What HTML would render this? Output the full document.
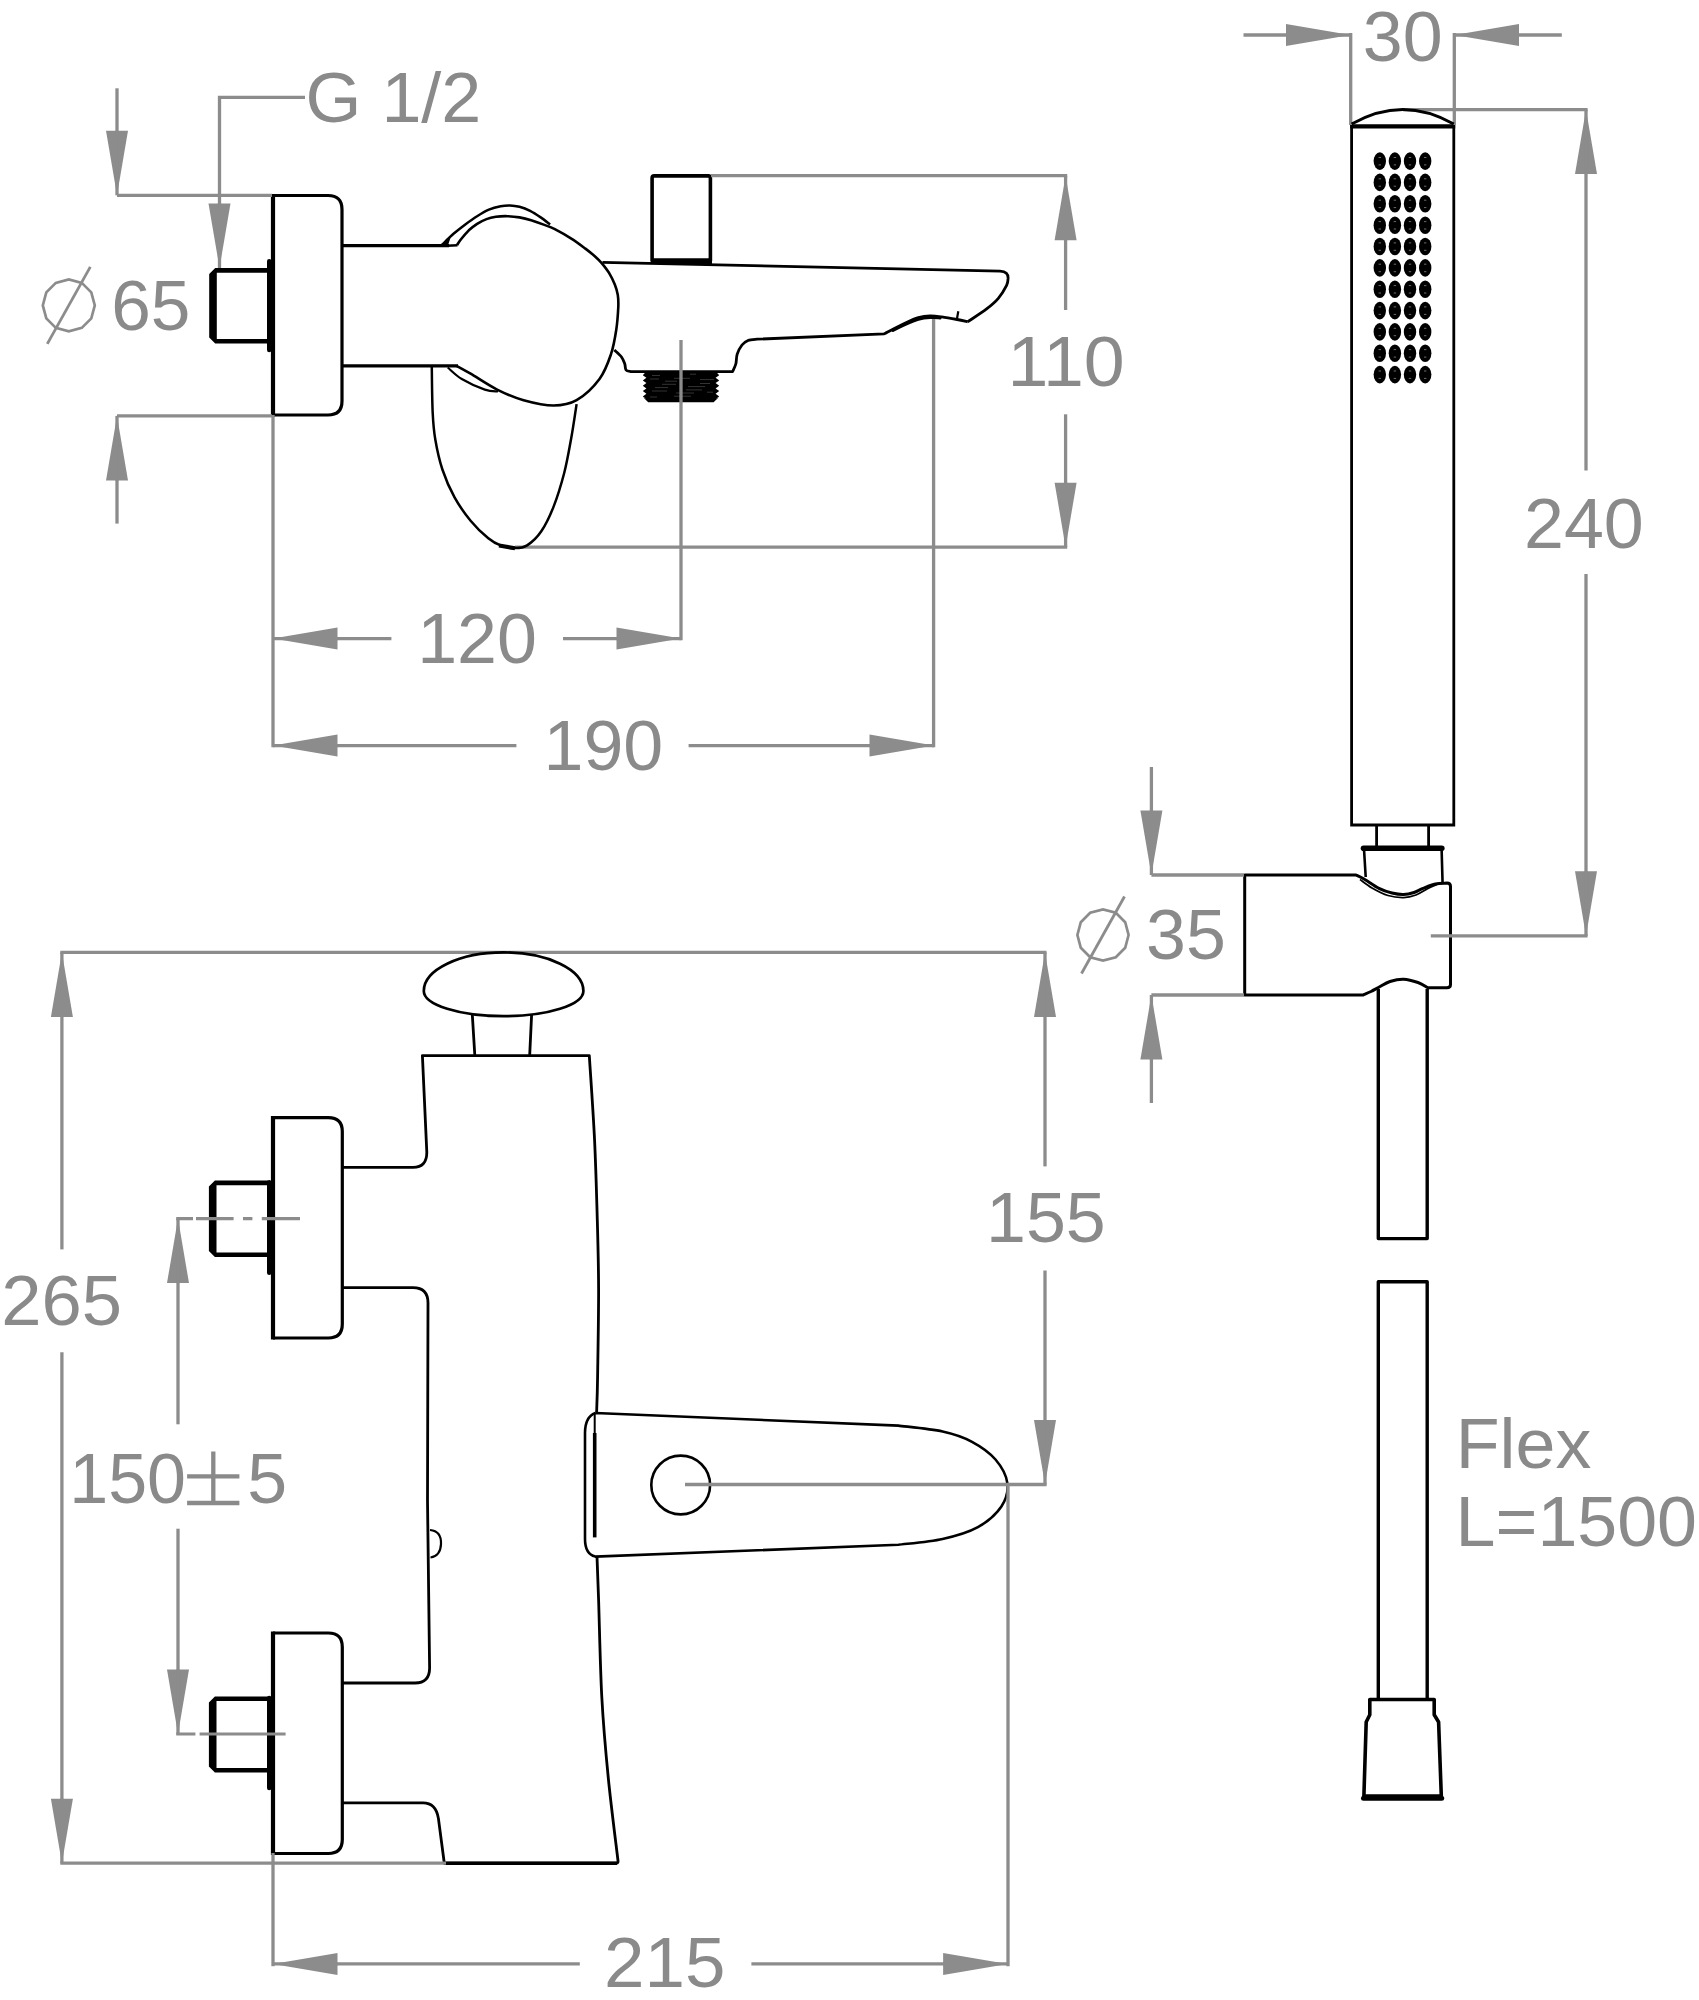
<!DOCTYPE html>
<html><head><meta charset="utf-8"><title>drawing</title>
<style>
html,body{margin:0;padding:0;background:#fff;}
svg{display:block;font-family:"Liberation Sans",sans-serif;}
</style></head><body>
<svg width="1699" height="2000" viewBox="0 0 1699 2000">
<rect width="1699" height="2000" fill="#fff"/>
<path d="M273,195.5 H328 Q342,195.5 342,209.5 V401 Q342,415 328,415 H273" fill="none" stroke="#000" stroke-width="3.2" />
<path d="M273,193.9 V416.6" fill="none" stroke="#000" stroke-width="4.2" />
<path d="M268,268 H215.2 L209.2,274 V337.6 L215.2,343.6 H268 Z M268,272.7 H216.8 V338.9 H268 Z" fill="#000" fill-rule="evenodd"/>
<path d="M269.2,261.3 V350.1" fill="none" stroke="#000" stroke-width="4.4" stroke-linecap="round"/>
<path d="M342,245.6 H449" fill="none" stroke="#000" stroke-width="3.3" />
<path d="M342,365.8 H458" fill="none" stroke="#000" stroke-width="3.2" />
<path d="M441.8,245 C443.8,243.1 449.6,237.2 453.5,233.8 C457.4,230.4 461.4,227.3 465.3,224.4 C469.2,221.5 473.2,218.6 477.1,216.2 C481,213.8 485,211.4 488.9,209.7 C492.8,208 497.1,206.9 500.6,206.2 C504.1,205.5 506.9,205.3 510,205.4 C513.1,205.5 516.1,205.9 519.5,206.8 C522.9,207.7 526.6,209.1 530.1,210.9 C533.6,212.7 537.4,215.2 540.7,217.4 C544,219.7 548.5,223.2 550.1,224.4" fill="none" stroke="#000" stroke-width="2.5" />
<path d="M441.5,246.8 L451,236.2 L447.5,246.8 Z" fill="#000"/>
<path d="M447,245.8 L457.5,245.2" fill="none" stroke="#000" stroke-width="2.6" />
<path d="M457.1,245 C457.7,244.1 458.7,242.1 460.6,239.7 C462.6,237.2 466.1,233 468.8,230.3 C471.6,227.7 474.2,225.7 477.1,223.8 C480.1,221.9 483.4,220.3 486.5,219.1 C489.6,217.9 492.4,217.3 495.9,216.8 C499.4,216.3 503.8,216.1 507.7,216.2 C511.6,216.3 515.6,216.7 519.5,217.4 C523.4,218.1 527.3,219.1 531.2,220.3 C535.1,221.5 539.1,222.9 543,224.4 C546.9,225.9 550.1,226.7 554.8,229.1 C559.5,231.5 566.2,235.3 571.3,238.6 C576.4,241.8 581.5,245.7 585.4,248.6 C589.3,251.5 592,253.8 594.8,256.2 C597.5,258.6 599.5,260.6 601.9,263.3 C604.2,266.1 606.8,269.2 608.9,272.7 C611,276.2 613.3,280.8 614.8,284.5 C616.3,288.2 617.2,291.2 617.8,295 C618.4,298.8 618.5,301.2 618.3,307 C618,312.8 617.5,321.6 616.3,329.5 C615.1,337.4 613.8,345.9 611,354.2 C608.2,362.4 605.2,371.3 599.5,379 C593.8,386.7 584.2,395.8 576.6,400.2 C569,404.6 562.4,405.5 553.6,405.5 C544.8,405.5 533,402.8 523.6,400.2 C514.2,397.6 505.9,394 497.1,389.6 C488.3,385.2 477.4,377.7 470.6,373.7 C463.8,369.7 458.9,367.1 456.5,365.8" fill="none" stroke="#000" stroke-width="2.6" />
<path d="M447.7,367.5 C450.1,369.4 455.6,375.3 461.8,379 C468,382.7 478.8,387.5 484.8,389.6 C490.8,391.7 495.8,391.2 498,391.5" fill="none" stroke="#000" stroke-width="2.2" />
<path d="M652.1,261 V178 Q652.1,175.9 654.2,175.9 H708.3 Q710.4,175.9 710.4,178 V261" fill="none" stroke="#000" stroke-width="3.6" />
<path d="M652.1,260 H710.4" fill="none" stroke="#000" stroke-width="3.6" />
<path d="M650.6,262.6 H712" fill="none" stroke="#000" stroke-width="3" />
<path d="M602.5,262.3 L1000,271.2 Q1008.8,271.6 1008,279  C1007.8,280.1 1008.2,282.1 1006.6,285.3 C1005,288.5 1001.6,294.4 998.3,298.3 C995,302.2 991.7,305 986.6,308.9 C981.5,312.8 970.9,319.6 967.7,321.8" fill="none" stroke="#000" stroke-width="2.8" stroke-linejoin="round"/>
<path d="M967.7,321.8  C965.9,321.4 961.4,320.3 957.1,319.5 C952.8,318.7 946.3,317.5 941.8,316.9 C937.3,316.3 933.9,315.8 930,315.9 C926.1,316 922.2,316.6 918.3,317.7 C914.4,318.8 910.2,320.7 906.5,322.4 C902.8,324.1 899.6,325.8 895.9,327.7 C892.2,329.6 886.2,332.8 884.2,333.8 L757,339.2  C755.5,339.4 750.5,339.5 748,340.5 C745.5,341.5 743.8,342.7 742,345 C740.2,347.3 738.2,351 737.2,354.2 C736.2,357.4 736.6,361.1 735.8,364 C735,366.9 733.1,370.3 732.6,371.6 H631  C630.2,371.3 627,371.3 626,370 C625,368.7 625.5,366.2 624.8,364 C624,361.8 623.2,359.3 621.5,357 C619.8,354.7 615.5,351.2 614.3,350" fill="none" stroke="#000" stroke-width="2.8" stroke-linejoin="round"/>
<path d="M893,330.3 C895.2,329.2 902.3,325.7 906.5,323.8 C910.7,321.9 914.4,320.3 918.3,319.2 C922.2,318.1 926.4,317.6 930,317.4 C933.6,317.2 938.3,317.7 940,317.8" fill="none" stroke="#000" stroke-width="3.2" stroke-linecap="round"/>
<path d="M958.3,311.2 L956.9,319.3" fill="none" stroke="#000" stroke-width="2.2" />
<polygon points="646.2,371.6 642.8,375.2 646.4,377.8 642.8,380.5 646.4,383.1 642.8,385.8 646.4,388.4 642.8,391.1 646.4,393.7 642.8,396.4 646.4,399 643.4,397.5 648.2,402.2 713.6,402.2 718.6,397.5 715.6,399 719.2,396.4 715.6,393.7 719.2,391.1 715.6,388.4 719.2,385.8 715.6,383.1 719.2,380.5 715.6,377.8 719.2,375.2 715.8,371.6" fill="#000"/>
<path d="M652,375.5 H660" stroke="#404040" stroke-width="0.8"/>
<path d="M690,374.2 H696" stroke="#404040" stroke-width="0.8"/>
<path d="M650,379 H659" stroke="#404040" stroke-width="0.8"/>
<path d="M674,378.3 H690" stroke="#404040" stroke-width="0.8"/>
<path d="M665,381.2 H677" stroke="#404040" stroke-width="0.8"/>
<path d="M700,379.6 H714" stroke="#404040" stroke-width="0.8"/>
<path d="M662,384.3 H676" stroke="#404040" stroke-width="0.8"/>
<path d="M700,383.5 H710" stroke="#404040" stroke-width="0.8"/>
<path d="M655,387.6 H668" stroke="#404040" stroke-width="0.8"/>
<path d="M688,386.6 H705" stroke="#404040" stroke-width="0.8"/>
<path d="M652,391 H667" stroke="#404040" stroke-width="0.8"/>
<path d="M686,389.9 H702" stroke="#404040" stroke-width="0.8"/>
<path d="M676,393 H694" stroke="#404040" stroke-width="0.8"/>
<path d="M707,392.2 H713" stroke="#404040" stroke-width="0.8"/>
<path d="M650,397 H657" stroke="#404040" stroke-width="0.8"/>
<path d="M674,396.2 H691" stroke="#404040" stroke-width="0.8"/>
<path d="M1351.6,124 V825 H1453.8 V124" fill="none" stroke="#000" stroke-width="2.8" />
<path d="M1350.2,126.3 H1455.2" fill="none" stroke="#000" stroke-width="4.2" />
<ellipse cx="1379.8" cy="161.1" rx="6.2" ry="8.8" fill="#000"/>
<path d="M1378.6,157.5 h2.4 M1378.6,164.9 h2.4" stroke="#777" stroke-width="0.9"/>
<ellipse cx="1394.9" cy="161.1" rx="6.2" ry="8.8" fill="#000"/>
<path d="M1393.7,157.5 h2.4 M1393.7,164.9 h2.4" stroke="#777" stroke-width="0.9"/>
<ellipse cx="1410" cy="161.1" rx="6.2" ry="8.8" fill="#000"/>
<path d="M1408.8,157.5 h2.4 M1408.8,164.9 h2.4" stroke="#777" stroke-width="0.9"/>
<ellipse cx="1425.2" cy="161.1" rx="6.2" ry="8.8" fill="#000"/>
<path d="M1424,157.5 h2.4 M1424,164.9 h2.4" stroke="#777" stroke-width="0.9"/>
<ellipse cx="1379.8" cy="182.4" rx="6.2" ry="8.8" fill="#000"/>
<path d="M1378.6,178.8 h2.4 M1378.6,186.2 h2.4" stroke="#777" stroke-width="0.9"/>
<ellipse cx="1394.9" cy="182.4" rx="6.2" ry="8.8" fill="#000"/>
<path d="M1393.7,178.8 h2.4 M1393.7,186.2 h2.4" stroke="#777" stroke-width="0.9"/>
<ellipse cx="1410" cy="182.4" rx="6.2" ry="8.8" fill="#000"/>
<path d="M1408.8,178.8 h2.4 M1408.8,186.2 h2.4" stroke="#777" stroke-width="0.9"/>
<ellipse cx="1425.2" cy="182.4" rx="6.2" ry="8.8" fill="#000"/>
<path d="M1424,178.8 h2.4 M1424,186.2 h2.4" stroke="#777" stroke-width="0.9"/>
<ellipse cx="1379.8" cy="203.8" rx="6.2" ry="8.8" fill="#000"/>
<path d="M1378.6,200.2 h2.4 M1378.6,207.6 h2.4" stroke="#777" stroke-width="0.9"/>
<ellipse cx="1394.9" cy="203.8" rx="6.2" ry="8.8" fill="#000"/>
<path d="M1393.7,200.2 h2.4 M1393.7,207.6 h2.4" stroke="#777" stroke-width="0.9"/>
<ellipse cx="1410" cy="203.8" rx="6.2" ry="8.8" fill="#000"/>
<path d="M1408.8,200.2 h2.4 M1408.8,207.6 h2.4" stroke="#777" stroke-width="0.9"/>
<ellipse cx="1425.2" cy="203.8" rx="6.2" ry="8.8" fill="#000"/>
<path d="M1424,200.2 h2.4 M1424,207.6 h2.4" stroke="#777" stroke-width="0.9"/>
<ellipse cx="1379.8" cy="225.2" rx="6.2" ry="8.8" fill="#000"/>
<path d="M1378.6,221.6 h2.4 M1378.6,229 h2.4" stroke="#777" stroke-width="0.9"/>
<ellipse cx="1394.9" cy="225.2" rx="6.2" ry="8.8" fill="#000"/>
<path d="M1393.7,221.6 h2.4 M1393.7,229 h2.4" stroke="#777" stroke-width="0.9"/>
<ellipse cx="1410" cy="225.2" rx="6.2" ry="8.8" fill="#000"/>
<path d="M1408.8,221.6 h2.4 M1408.8,229 h2.4" stroke="#777" stroke-width="0.9"/>
<ellipse cx="1425.2" cy="225.2" rx="6.2" ry="8.8" fill="#000"/>
<path d="M1424,221.6 h2.4 M1424,229 h2.4" stroke="#777" stroke-width="0.9"/>
<ellipse cx="1379.8" cy="246.5" rx="6.2" ry="8.8" fill="#000"/>
<path d="M1378.6,242.9 h2.4 M1378.6,250.3 h2.4" stroke="#777" stroke-width="0.9"/>
<ellipse cx="1394.9" cy="246.5" rx="6.2" ry="8.8" fill="#000"/>
<path d="M1393.7,242.9 h2.4 M1393.7,250.3 h2.4" stroke="#777" stroke-width="0.9"/>
<ellipse cx="1410" cy="246.5" rx="6.2" ry="8.8" fill="#000"/>
<path d="M1408.8,242.9 h2.4 M1408.8,250.3 h2.4" stroke="#777" stroke-width="0.9"/>
<ellipse cx="1425.2" cy="246.5" rx="6.2" ry="8.8" fill="#000"/>
<path d="M1424,242.9 h2.4 M1424,250.3 h2.4" stroke="#777" stroke-width="0.9"/>
<ellipse cx="1379.8" cy="267.9" rx="6.2" ry="8.8" fill="#000"/>
<path d="M1378.6,264.2 h2.4 M1378.6,271.7 h2.4" stroke="#777" stroke-width="0.9"/>
<ellipse cx="1394.9" cy="267.9" rx="6.2" ry="8.8" fill="#000"/>
<path d="M1393.7,264.2 h2.4 M1393.7,271.7 h2.4" stroke="#777" stroke-width="0.9"/>
<ellipse cx="1410" cy="267.9" rx="6.2" ry="8.8" fill="#000"/>
<path d="M1408.8,264.2 h2.4 M1408.8,271.7 h2.4" stroke="#777" stroke-width="0.9"/>
<ellipse cx="1425.2" cy="267.9" rx="6.2" ry="8.8" fill="#000"/>
<path d="M1424,264.2 h2.4 M1424,271.7 h2.4" stroke="#777" stroke-width="0.9"/>
<ellipse cx="1379.8" cy="289.2" rx="6.2" ry="8.8" fill="#000"/>
<path d="M1378.6,285.6 h2.4 M1378.6,293 h2.4" stroke="#777" stroke-width="0.9"/>
<ellipse cx="1394.9" cy="289.2" rx="6.2" ry="8.8" fill="#000"/>
<path d="M1393.7,285.6 h2.4 M1393.7,293 h2.4" stroke="#777" stroke-width="0.9"/>
<ellipse cx="1410" cy="289.2" rx="6.2" ry="8.8" fill="#000"/>
<path d="M1408.8,285.6 h2.4 M1408.8,293 h2.4" stroke="#777" stroke-width="0.9"/>
<ellipse cx="1425.2" cy="289.2" rx="6.2" ry="8.8" fill="#000"/>
<path d="M1424,285.6 h2.4 M1424,293 h2.4" stroke="#777" stroke-width="0.9"/>
<ellipse cx="1379.8" cy="310.6" rx="6.2" ry="8.8" fill="#000"/>
<path d="M1378.6,306.9 h2.4 M1378.6,314.4 h2.4" stroke="#777" stroke-width="0.9"/>
<ellipse cx="1394.9" cy="310.6" rx="6.2" ry="8.8" fill="#000"/>
<path d="M1393.7,306.9 h2.4 M1393.7,314.4 h2.4" stroke="#777" stroke-width="0.9"/>
<ellipse cx="1410" cy="310.6" rx="6.2" ry="8.8" fill="#000"/>
<path d="M1408.8,306.9 h2.4 M1408.8,314.4 h2.4" stroke="#777" stroke-width="0.9"/>
<ellipse cx="1425.2" cy="310.6" rx="6.2" ry="8.8" fill="#000"/>
<path d="M1424,306.9 h2.4 M1424,314.4 h2.4" stroke="#777" stroke-width="0.9"/>
<ellipse cx="1379.8" cy="331.9" rx="6.2" ry="8.8" fill="#000"/>
<path d="M1378.6,328.3 h2.4 M1378.6,335.7 h2.4" stroke="#777" stroke-width="0.9"/>
<ellipse cx="1394.9" cy="331.9" rx="6.2" ry="8.8" fill="#000"/>
<path d="M1393.7,328.3 h2.4 M1393.7,335.7 h2.4" stroke="#777" stroke-width="0.9"/>
<ellipse cx="1410" cy="331.9" rx="6.2" ry="8.8" fill="#000"/>
<path d="M1408.8,328.3 h2.4 M1408.8,335.7 h2.4" stroke="#777" stroke-width="0.9"/>
<ellipse cx="1425.2" cy="331.9" rx="6.2" ry="8.8" fill="#000"/>
<path d="M1424,328.3 h2.4 M1424,335.7 h2.4" stroke="#777" stroke-width="0.9"/>
<ellipse cx="1379.8" cy="353.2" rx="6.2" ry="8.8" fill="#000"/>
<path d="M1378.6,349.6 h2.4 M1378.6,357.1 h2.4" stroke="#777" stroke-width="0.9"/>
<ellipse cx="1394.9" cy="353.2" rx="6.2" ry="8.8" fill="#000"/>
<path d="M1393.7,349.6 h2.4 M1393.7,357.1 h2.4" stroke="#777" stroke-width="0.9"/>
<ellipse cx="1410" cy="353.2" rx="6.2" ry="8.8" fill="#000"/>
<path d="M1408.8,349.6 h2.4 M1408.8,357.1 h2.4" stroke="#777" stroke-width="0.9"/>
<ellipse cx="1425.2" cy="353.2" rx="6.2" ry="8.8" fill="#000"/>
<path d="M1424,349.6 h2.4 M1424,357.1 h2.4" stroke="#777" stroke-width="0.9"/>
<ellipse cx="1379.8" cy="374.6" rx="6.2" ry="8.8" fill="#000"/>
<path d="M1378.6,371 h2.4 M1378.6,378.4 h2.4" stroke="#777" stroke-width="0.9"/>
<ellipse cx="1394.9" cy="374.6" rx="6.2" ry="8.8" fill="#000"/>
<path d="M1393.7,371 h2.4 M1393.7,378.4 h2.4" stroke="#777" stroke-width="0.9"/>
<ellipse cx="1410" cy="374.6" rx="6.2" ry="8.8" fill="#000"/>
<path d="M1408.8,371 h2.4 M1408.8,378.4 h2.4" stroke="#777" stroke-width="0.9"/>
<ellipse cx="1425.2" cy="374.6" rx="6.2" ry="8.8" fill="#000"/>
<path d="M1424,371 h2.4 M1424,378.4 h2.4" stroke="#777" stroke-width="0.9"/>
<path d="M1376.6,825 V846 M1428.6,825 V846" fill="none" stroke="#000" stroke-width="2.8" />
<path d="M1363.5,848.2 H1441.8" fill="none" stroke="#000" stroke-width="5.6" stroke-linecap="round"/>
<path d="M1364,849 L1365.7,877 M1441.6,849 L1442.6,884" fill="none" stroke="#000" stroke-width="2.6" />
<path d="M1244.7,875 H1356  C1357.5,875.8 1361,877.3 1364.8,879.5 C1368.6,881.7 1374.4,886 1378.9,888.3 C1383.4,890.5 1387.9,892 1392,893 C1396.1,894 1399.9,894.6 1403.6,894.5 C1407.3,894.4 1410.8,893.5 1414,892.5 C1417.2,891.5 1419.5,889.7 1423.1,888.3 C1426.7,886.9 1431.4,884.9 1435.4,884 C1439.4,883.1 1445.1,883.2 1447,883 Q1450.5,883 1450.5,886.5 V984.5 Q1450.5,987.8 1447,987.8 H1428  C1426.3,986.9 1422.1,983.9 1418,982.5 C1413.9,981.1 1408.3,979.4 1403.6,979.2 C1398.9,979 1394.1,980.2 1390,981.5 C1385.9,982.8 1382.1,985.5 1378.9,987.2 C1375.7,988.9 1373.7,990.2 1371,991.5 C1368.3,992.8 1364.3,994.5 1363,995.1 H1244.7 Z" fill="none" stroke="#000" stroke-width="3" stroke-linejoin="round"/>
<path d="M1360,879.5 C1362,880.9 1367.3,885.3 1372,888 C1376.7,890.7 1382.7,893.9 1388,895.5 C1393.3,897.1 1398.9,897.7 1403.6,897.6 C1408.3,897.5 1412.1,896.4 1416,895 C1419.9,893.6 1423.5,890.8 1427,889 C1430.5,887.2 1435.3,885.2 1437,884.5" fill="none" stroke="#000" stroke-width="1.8" />
<path d="M1378.3,989 V1238.6 H1427.2 V989" fill="none" stroke="#000" stroke-width="3.4" stroke-linejoin="round"/>
<path d="M1378.3,1700 V1281.8 H1427.2 V1700" fill="none" stroke="#000" stroke-width="3.4" stroke-linejoin="round"/>
<path d="M1369.8,1699.5 H1434.2 V1714.8 L1438.6,1722 L1441.3,1796 H1363.9 L1366.2,1722 L1369.8,1714.8 Z" fill="none" stroke="#000" stroke-width="3.6" stroke-linejoin="round"/>
<path d="M1363.5,1798.2 H1441.7" fill="none" stroke="#000" stroke-width="5" stroke-linecap="round"/>
<path d="M273,1117.6 H328.3 Q342.3,1117.6 342.3,1131.6 V1324 Q342.3,1338 328.3,1338 H273" fill="none" stroke="#000" stroke-width="3.2" />
<path d="M273,1116 V1339.6" fill="none" stroke="#000" stroke-width="4.2" />
<path d="M268,1180.6 H214.9 L208.9,1186.6 V1251.1 L214.9,1257.1 H268 Z M268,1185.3 H216.5 V1252.4 H268 Z" fill="#000" fill-rule="evenodd"/>
<path d="M269.2,1182.1 V1272.7" fill="none" stroke="#000" stroke-width="4.4" stroke-linecap="round"/>
<path d="M273,1633 H328.3 Q342.3,1633 342.3,1647 V1839.5 Q342.3,1853.5 328.3,1853.5 H273" fill="none" stroke="#000" stroke-width="3.2" />
<path d="M273,1631.4 V1855.1" fill="none" stroke="#000" stroke-width="4.2" />
<path d="M268,1696.4 H214.9 L208.9,1702.4 V1766.6 L214.9,1772.6 H268 Z M268,1701.1 H216.5 V1767.9 H268 Z" fill="#000" fill-rule="evenodd"/>
<path d="M269.2,1697.9 V1788" fill="none" stroke="#000" stroke-width="4.4" stroke-linecap="round"/>
<path d="M472.3,1014.5 L474.8,1055 M531.6,1015 L529.7,1055" fill="none" stroke="#000" stroke-width="2.8" />
<path d="M342.3,1167.3 H413 Q427,1167.3 426.8,1152 L422.4,1055.6 H589.3  C590.2,1069.8 593.3,1113.3 594.6,1140.7 C595.9,1168.1 596.6,1195.4 597.3,1220 C598,1244.6 598.5,1262.2 598.6,1288.3 C598.7,1314.4 597.9,1355.9 597.6,1376.6 C597.3,1397.3 596.8,1406.5 596.6,1412.5" fill="none" stroke="#000" stroke-width="2.8" stroke-linejoin="round"/>
<path d="M342.3,1287.6 H413 Q428,1287.6 428,1303 L427.5,1500 L429.6,1668 Q429.6,1683 415,1683 H342.3" fill="none" stroke="#000" stroke-width="2.8" />
<path d="M430,1530 Q441.5,1531 441,1544 Q440.5,1556 430.5,1557.5" fill="none" stroke="#000" stroke-width="2.2" />
<path d="M342.3,1802.8 H423 Q436,1802.8 438.4,1818.4 L444.3,1863.2 H616.5 Q618.3,1863 618,1860.8  C616.4,1847 611,1805.3 608.3,1778 C605.6,1750.7 603.4,1726.7 601.8,1697 C600.2,1667.3 599.4,1623.4 598.6,1600 C597.8,1576.6 597.3,1563.8 597,1556.6" fill="none" stroke="#000" stroke-width="2.8" stroke-linejoin="round"/>
<path d="M444.3,1863.2 H617" fill="none" stroke="#000" stroke-width="3.4" />
<path d="M595.3,1413 L898.4,1425.6  C905.8,1426.6 930.3,1428.8 942.6,1431.5 C954.9,1434.2 963.2,1437.1 972,1441.8 C980.8,1446.5 989.6,1452.6 995.5,1459.5 C1001.4,1466.4 1006.3,1475.2 1007.3,1483 C1008.3,1490.8 1006.3,1499.2 1001.4,1506.5 C996.5,1513.8 987.7,1521.7 977.9,1527.1 C968.1,1532.5 955.9,1536 942.6,1538.9 C929.4,1541.9 905.8,1543.8 898.4,1544.8 L595.3,1556.6 Q585,1554 585,1539 V1433 Q585,1417 595.3,1413" fill="none" stroke="#000" stroke-width="2.6" />
<path d="M594.7,1433 V1537.4" fill="none" stroke="#000" stroke-width="3.6" />
<path d="M594.7,1413.5 V1433" fill="none" stroke="#000" stroke-width="2" />
<circle cx="680.7" cy="1485" r="29.4" fill="none" stroke="#000" stroke-width="2.6"/>
<path d="M117,88.3 L117,140" stroke="#8c8c8c" stroke-width="3.3" fill="none" />
<polygon points="117,195.3 106,130.8 128,130.8" fill="#8c8c8c"/>
<path d="M117,195.3 L117,130.8" stroke="#8c8c8c" stroke-width="3.3" fill="none" />
<path d="M117,195.3 L272,195.3" stroke="#8c8c8c" stroke-width="3.3" fill="none" />
<path d="M117,415.9 L272,415.9" stroke="#8c8c8c" stroke-width="3.3" fill="none" />
<polygon points="117,415.9 106,480.4 128,480.4" fill="#8c8c8c"/>
<path d="M117,415.9 L117,480.4" stroke="#8c8c8c" stroke-width="3.3" fill="none" />
<path d="M117,470 L117,523.6" stroke="#8c8c8c" stroke-width="3.3" fill="none" />
<path d="M305,97.3 L219.5,97.3 L219.5,210" stroke="#8c8c8c" stroke-width="3.3" fill="none" stroke-linejoin="miter"/>
<polygon points="219.5,268 208.5,203.5 230.5,203.5" fill="#8c8c8c"/>
<path d="M219.5,268 L219.5,203.5" stroke="#8c8c8c" stroke-width="3.3" fill="none" />
<path d="M273,415 L273,747.3" stroke="#8c8c8c" stroke-width="3.3" fill="none" />
<polygon points="273,638.6 337.5,627.6 337.5,649.6" fill="#8c8c8c"/>
<path d="M273,638.6 L337.5,638.6" stroke="#8c8c8c" stroke-width="3.3" fill="none" />
<path d="M330,638.6 L391.4,638.6" stroke="#8c8c8c" stroke-width="3.3" fill="none" />
<path d="M563,638.6 L625,638.6" stroke="#8c8c8c" stroke-width="3.3" fill="none" />
<polygon points="681,638.6 616.5,627.6 616.5,649.6" fill="#8c8c8c"/>
<path d="M681,638.6 L616.5,638.6" stroke="#8c8c8c" stroke-width="3.3" fill="none" />
<path d="M681,340 L681,640.2" stroke="#8c8c8c" stroke-width="3.3" fill="none" />
<polygon points="273,745.6 337.5,734.6 337.5,756.6" fill="#8c8c8c"/>
<path d="M273,745.6 L337.5,745.6" stroke="#8c8c8c" stroke-width="3.3" fill="none" />
<path d="M330,745.6 L516.4,745.6" stroke="#8c8c8c" stroke-width="3.3" fill="none" />
<path d="M688.6,745.6 L875,745.6" stroke="#8c8c8c" stroke-width="3.3" fill="none" />
<polygon points="934,745.6 869.5,734.6 869.5,756.6" fill="#8c8c8c"/>
<path d="M934,745.6 L869.5,745.6" stroke="#8c8c8c" stroke-width="3.3" fill="none" />
<path d="M933.6,319 L933.6,747.3" stroke="#8c8c8c" stroke-width="3.3" fill="none" />
<path d="M711,175.7 L1067.2,175.7" stroke="#8c8c8c" stroke-width="3.3" fill="none" />
<polygon points="1065.6,175.7 1054.6,240.2 1076.6,240.2" fill="#8c8c8c"/>
<path d="M1065.6,175.7 L1065.6,240.2" stroke="#8c8c8c" stroke-width="3.3" fill="none" />
<path d="M1065.6,230 L1065.6,310" stroke="#8c8c8c" stroke-width="3.3" fill="none" />
<path d="M1065.6,414.3 L1065.6,490" stroke="#8c8c8c" stroke-width="3.3" fill="none" />
<polygon points="1065.6,547.2 1054.6,482.7 1076.6,482.7" fill="#8c8c8c"/>
<path d="M1065.6,547.2 L1065.6,482.7" stroke="#8c8c8c" stroke-width="3.3" fill="none" />
<path d="M515,547.2 L1067.2,547.2" stroke="#8c8c8c" stroke-width="3.3" fill="none" />
<text transform="translate(305.5,121.8) scale(1.02,1)" font-size="70.5" text-anchor="start" fill="#8a8a8a" >G 1/2</text>
<text transform="translate(111.2,330.2) scale(1.025,1)" font-size="69.5" text-anchor="start" fill="#8a8a8a" >65</text>
<polygon points="94.8,305.4 91.3,318.4 81.8,327.9 68.8,331.4 55.8,327.9 46.3,318.4 42.8,305.4 46.3,292.4 55.8,282.9 68.8,279.4 81.8,282.9 91.3,292.4" fill="none" stroke="#8c8c8c" stroke-width="2.7"/>
<path d="M47.3,343.9 L90.3,266.9" stroke="#8c8c8c" stroke-width="2.8" fill="none" />
<text transform="translate(417.2,663.2) scale(1.025,1)" font-size="70" text-anchor="start" fill="#8a8a8a" >120</text>
<text transform="translate(543.5,770.2) scale(1.025,1)" font-size="70" text-anchor="start" fill="#8a8a8a" >190</text>
<text transform="translate(1007.5,386) scale(1.05,1)" font-size="70" text-anchor="start" fill="#8a8a8a" >110</text>
<path d="M1243.5,35 L1295,35" stroke="#8c8c8c" stroke-width="3.3" fill="none" />
<polygon points="1350.5,35 1286,24 1286,46" fill="#8c8c8c"/>
<path d="M1350.5,35 L1286,35" stroke="#8c8c8c" stroke-width="3.3" fill="none" />
<path d="M1350.7,33 L1350.7,125" stroke="#8c8c8c" stroke-width="3.3" fill="none" />
<path d="M1454.3,33 L1454.3,125" stroke="#8c8c8c" stroke-width="3.3" fill="none" />
<polygon points="1454.5,35 1519,24 1519,46" fill="#8c8c8c"/>
<path d="M1454.5,35 L1519,35" stroke="#8c8c8c" stroke-width="3.3" fill="none" />
<path d="M1510,35 L1561.8,35" stroke="#8c8c8c" stroke-width="3.3" fill="none" />
<text transform="translate(1362.8,60.7) scale(1.025,1)" font-size="70" text-anchor="start" fill="#8a8a8a" >30</text>
<path d="M1403,109.6 L1587.6,109.6" stroke="#8c8c8c" stroke-width="3.3" fill="none" />
<polygon points="1586,109.6 1575,174.1 1597,174.1" fill="#8c8c8c"/>
<path d="M1586,109.6 L1586,174.1" stroke="#8c8c8c" stroke-width="3.3" fill="none" />
<path d="M1586,165 L1586,470.5" stroke="#8c8c8c" stroke-width="3.3" fill="none" />
<path d="M1586,573.9 L1586,880" stroke="#8c8c8c" stroke-width="3.3" fill="none" />
<polygon points="1586,935.8 1575,871.3 1597,871.3" fill="#8c8c8c"/>
<path d="M1586,935.8 L1586,871.3" stroke="#8c8c8c" stroke-width="3.3" fill="none" />
<path d="M1430.8,935.8 L1587.6,935.8" stroke="#8c8c8c" stroke-width="3.3" fill="none" />
<text transform="translate(1524,547.5) scale(1.025,1)" font-size="70" text-anchor="start" fill="#8a8a8a" >240</text>
<path d="M1151.4,767 L1151.4,820" stroke="#8c8c8c" stroke-width="3.3" fill="none" />
<polygon points="1151.4,875 1140.4,810.5 1162.4,810.5" fill="#8c8c8c"/>
<path d="M1151.4,875 L1151.4,810.5" stroke="#8c8c8c" stroke-width="3.3" fill="none" />
<path d="M1151.4,875 L1244,875" stroke="#8c8c8c" stroke-width="3.3" fill="none" />
<path d="M1151.4,995 L1244,995" stroke="#8c8c8c" stroke-width="3.3" fill="none" />
<polygon points="1151.4,995 1140.4,1059.5 1162.4,1059.5" fill="#8c8c8c"/>
<path d="M1151.4,995 L1151.4,1059.5" stroke="#8c8c8c" stroke-width="3.3" fill="none" />
<path d="M1151.4,1050 L1151.4,1103" stroke="#8c8c8c" stroke-width="3.3" fill="none" />
<polygon points="1128.6,935 1125.2,947.8 1115.8,957.2 1103,960.6 1090.2,957.2 1080.8,947.8 1077.4,935 1080.8,922.2 1090.2,912.8 1103,909.4 1115.8,912.8 1125.2,922.2" fill="none" stroke="#8c8c8c" stroke-width="2.7"/>
<path d="M1081.5,973.5 L1124.5,896.5" stroke="#8c8c8c" stroke-width="2.8" fill="none" />
<text transform="translate(1146,959.2) scale(1.025,1)" font-size="70" text-anchor="start" fill="#8a8a8a" >35</text>
<text transform="translate(1455.8,1467.8) scale(1.025,1)" font-size="70" text-anchor="start" fill="#8a8a8a" >Flex</text>
<text transform="translate(1455.6,1546.2) scale(1.025,1)" font-size="70" text-anchor="start" fill="#8a8a8a" >L=1500</text>
<path d="M60.3,952.4 L1046.5,952.4" stroke="#8c8c8c" stroke-width="3.3" fill="none" />
<polygon points="61.9,952.4 50.9,1016.9 72.9,1016.9" fill="#8c8c8c"/>
<path d="M61.9,952.4 L61.9,1016.9" stroke="#8c8c8c" stroke-width="3.3" fill="none" />
<path d="M61.9,1010 L61.9,1249.4" stroke="#8c8c8c" stroke-width="3.3" fill="none" />
<path d="M61.9,1352.2 L61.9,1805" stroke="#8c8c8c" stroke-width="3.3" fill="none" />
<polygon points="61.9,1863.2 50.9,1798.7 72.9,1798.7" fill="#8c8c8c"/>
<path d="M61.9,1863.2 L61.9,1798.7" stroke="#8c8c8c" stroke-width="3.3" fill="none" />
<path d="M60.3,1863.2 L446,1863.2" stroke="#8c8c8c" stroke-width="3.3" fill="none" />
<text transform="translate(1.2,1324.6) scale(1.035,1)" font-size="70" text-anchor="start" fill="#8a8a8a" >265</text>
<polygon points="1045,952.4 1034,1016.9 1056,1016.9" fill="#8c8c8c"/>
<path d="M1045,952.4 L1045,1016.9" stroke="#8c8c8c" stroke-width="3.3" fill="none" />
<path d="M1045,1010 L1045,1166.4" stroke="#8c8c8c" stroke-width="3.3" fill="none" />
<path d="M1045,1270.5 L1045,1430" stroke="#8c8c8c" stroke-width="3.3" fill="none" />
<polygon points="1045,1484.5 1034,1420 1056,1420" fill="#8c8c8c"/>
<path d="M1045,1484.5 L1045,1420" stroke="#8c8c8c" stroke-width="3.3" fill="none" />
<path d="M685,1484.5 L1046.6,1484.5" stroke="#8c8c8c" stroke-width="3.3" fill="none" />
<text transform="translate(986,1241.8) scale(1.025,1)" font-size="70" text-anchor="start" fill="#8a8a8a" >155</text>
<path d="M273,1853 L273,1966.2" stroke="#8c8c8c" stroke-width="3.3" fill="none" />
<polygon points="273,1963.9 337.5,1952.9 337.5,1974.9" fill="#8c8c8c"/>
<path d="M273,1963.9 L337.5,1963.9" stroke="#8c8c8c" stroke-width="3.3" fill="none" />
<path d="M330,1963.9 L579.8,1963.9" stroke="#8c8c8c" stroke-width="3.3" fill="none" />
<path d="M751.4,1963.9 L950,1963.9" stroke="#8c8c8c" stroke-width="3.3" fill="none" />
<polygon points="1007.6,1963.9 943.1,1952.9 943.1,1974.9" fill="#8c8c8c"/>
<path d="M1007.6,1963.9 L943.1,1963.9" stroke="#8c8c8c" stroke-width="3.3" fill="none" />
<path d="M1008,1484 L1008,1966.2" stroke="#8c8c8c" stroke-width="3.3" fill="none" />
<text transform="translate(604,1987.2) scale(1.04,1)" font-size="70" text-anchor="start" fill="#8a8a8a" >215</text>
<polygon points="178,1218.6 167,1283.1 189,1283.1" fill="#8c8c8c"/>
<path d="M178,1218.6 L178,1283.1" stroke="#8c8c8c" stroke-width="3.3" fill="none" />
<path d="M178,1275 L178,1424.3" stroke="#8c8c8c" stroke-width="3.3" fill="none" />
<path d="M178,1528.7 L178,1675" stroke="#8c8c8c" stroke-width="3.3" fill="none" />
<polygon points="178,1734 167,1669.5 189,1669.5" fill="#8c8c8c"/>
<path d="M178,1734 L178,1669.5" stroke="#8c8c8c" stroke-width="3.3" fill="none" />
<path d="M176.2,1218.6 H193 M196,1218.6 H233.6 M243,1218.6 H252.4 M261.8,1218.6 H300" stroke="#8c8c8c" stroke-width="3.1" fill="none"/>
<path d="M176.2,1734 H195.4 M199.6,1734 H285.6" stroke="#8c8c8c" stroke-width="3.1" fill="none"/>
<text transform="translate(69.2,1502.6) scale(1.0,1)" font-size="70" text-anchor="start" fill="#8a8a8a" >150</text>
<text transform="translate(247.3,1502.6) scale(1.025,1)" font-size="70" text-anchor="start" fill="#8a8a8a" >5</text>
<path d="M187.1,1476.3 H239.4 M187.1,1503 H239.4 M213.3,1451.4 V1503" stroke="#8a8a8a" stroke-width="4.3" fill="none"/>
<path d="M431.8,367 C431.9,374.7 432.1,400.9 432.7,413 C433.3,425.1 433.7,430.1 435.3,439.5 C436.9,448.9 439.2,459.8 442.4,469.5 C445.6,479.2 450,489.2 454.7,497.7 C459.4,506.2 465,513.9 470.6,520.7 C476.2,527.5 483.3,534.2 488.3,538.3 C493.3,542.4 496.2,543.8 500.6,545.4 C505,547 510.4,548.1 514.8,548.1 C519.2,548.1 522.7,548.2 527.1,545.4 C531.5,542.6 536.9,537.8 541.3,531.3 C545.7,524.8 549.8,516.3 553.6,506.6 C557.4,496.9 561.2,484.5 564.2,473 C567.2,461.5 569.2,449.2 571.3,437.7 C573.4,426.2 575.7,409.7 576.6,404.1" fill="none" stroke="#000" stroke-width="2.5" />
<path d="M499,545.5 L515,548.3" fill="none" stroke="#000" stroke-width="4.2" />
<path d="M1351.6,124 Q1402.7,94.8 1453.8,124" fill="none" stroke="#000" stroke-width="3" />
<path d="M423.8,991 A79.8,38.6 0 0 1 583.4,991 A79.8,25.2 0 0 1 423.8,991 Z" fill="none" stroke="#000" stroke-width="2.7" />
</svg>
</body></html>
